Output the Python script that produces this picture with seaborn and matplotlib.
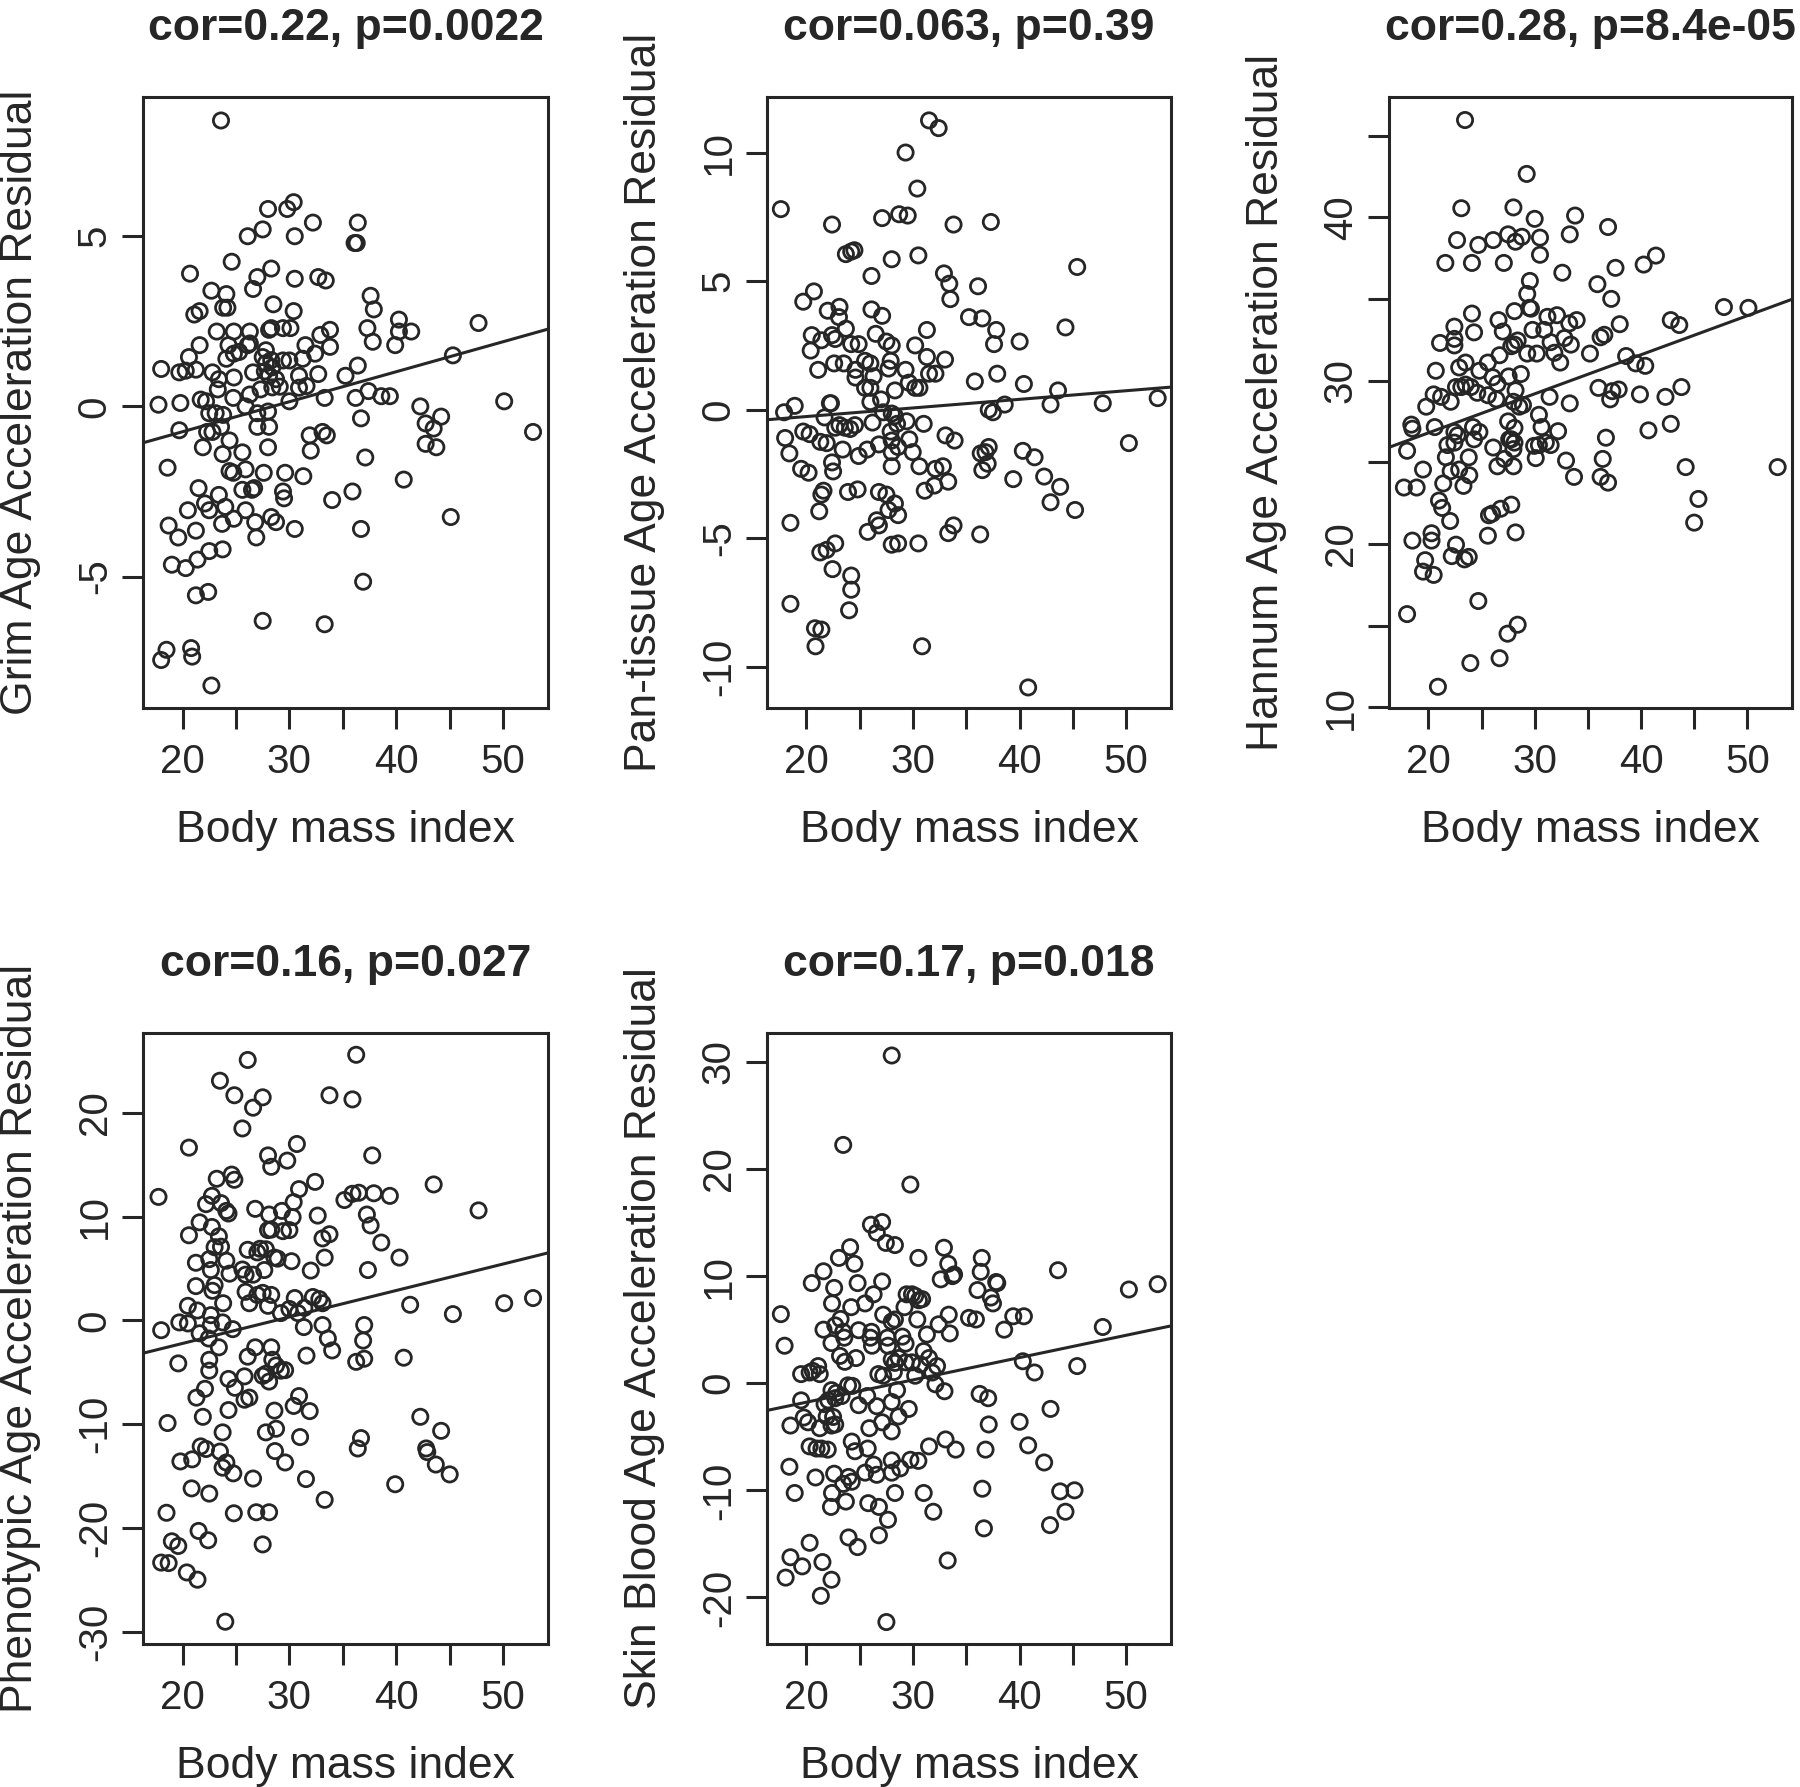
import matplotlib
matplotlib.use("Agg")
import matplotlib.pyplot as plt
import numpy as np
import pandas as pd
import seaborn as sns

# ---------------- data ----------------
x_label = "Body mass index"
titles = ["cor=0.22, p=0.0022", "cor=0.063, p=0.39", "cor=0.28, p=8.4e-05",
          "cor=0.16, p=0.027", "cor=0.17, p=0.018"]
y_labels = ["Grim Age Acceleration Residual", "Pan-tissue Age Acceleration Residual",
            "Hannum Age Acceleration Residual", "Phenotypic Age Acceleration Residual",
            "Skin Blood Age Acceleration Residual"]

x_ticks = [20, 25, 30, 35, 40, 45, 50]
x_tick_labels = ["20", "", "30", "", "40", "", "50"]

grim_ticks = [-5, 0, 5]
grim_tick_labels = ["-5", "0", "5"]
pan_ticks = [-10, -5, 0, 5, 10]
pan_tick_labels = ["-10", "-5", "0", "5", "10"]
hannum_ticks = [10, 15, 20, 25, 30, 35, 40, 45]
hannum_tick_labels = ["10", "", "20", "", "30", "", "40", ""]
pheno_ticks = [-30, -20, -10, 0, 10, 20]
pheno_tick_labels = ["-30", "-20", "-10", "0", "10", "20"]
skin_ticks = [-20, -10, 0, 10, 20, 30]
skin_tick_labels = ["-20", "-10", "0", "10", "20", "30"]

# (body mass index, residual) pairs
grim_points = [
    (23.6, 8.4), (28.0, 5.8), (29.8, 5.8), (30.4, 6.0), (32.2, 5.4), (36.4, 5.4), (36.1, 4.8), (36.3, 4.8),
    (26.1, 5.0), (27.5, 5.2), (30.5, 5.0), (24.6, 4.25), (20.7, 3.9), (27.0, 3.8), (28.3, 4.05), (26.6, 3.45),
    (30.5, 3.75), (32.7, 3.8), (33.4, 3.7), (22.7, 3.4), (24.1, 3.3), (23.8, 2.9), (24.2, 2.9), (21.1, 2.7),
    (21.6, 2.8), (28.5, 3.0), (30.4, 2.8), (37.6, 3.25), (37.9, 2.85), (23.2, 2.2), (24.8, 2.2), (26.3, 2.2),
    (28.1, 2.25), (28.3, 2.3), (29.4, 2.3), (30.1, 2.3), (32.9, 2.1), (33.8, 2.25), (37.3, 2.3), (37.8, 1.9),
    (40.25, 2.55), (40.25, 2.2), (41.4, 2.2), (47.7, 2.45), (39.9, 1.8), (21.6, 1.8), (24.3, 1.8), (25.3, 1.6),
    (26.1, 1.8), (26.3, 1.85), (20.6, 1.45), (24.1, 1.4), (24.8, 1.55), (27.8, 1.65), (31.5, 1.8), (32.4, 1.55),
    (33.8, 1.75), (18.0, 1.1), (19.7, 1.0), (20.3, 1.05), (21.25, 1.08), (22.8, 1.0), (24.8, 0.85), (23.4, 0.8),
    (26.6, 1.0), (27.5, 1.45), (27.8, 1.27), (28.3, 1.36), (28.4, 1.15), (27.7, 1.03), (28.1, 0.91), (28.75, 0.8),
    (29.1, 0.58), (28.4, 0.56), (29.4, 1.35), (30.0, 1.35), (31.25, 1.4), (30.9, 0.9), (30.9, 0.55), (31.6, 0.6),
    (32.7, 0.95), (35.25, 0.9), (36.4, 1.2), (45.3, 1.5), (23.3, 0.5), (26.3, 0.35), (27.3, 0.5), (24.75, 0.25),
    (30.0, 0.15), (33.3, 0.25), (36.2, 0.25), (37.4, 0.45), (38.6, 0.3), (39.4, 0.3), (50.1, 0.15), (17.75, 0.05),
    (19.8, 0.1), (21.7, 0.2), (22.2, 0.15), (25.9, 0.0), (42.25, 0.0), (22.5, -0.2), (23.1, -0.2), (23.8, -0.25),
    (27.0, -0.2), (28.0, -0.15), (44.2, -0.3), (36.7, -0.35), (42.75, -0.5), (43.5, -0.65), (19.7, -0.7),
    (22.3, -0.75), (22.8, -0.75), (23.6, -0.6), (27.0, -0.6), (28.1, -0.6), (31.9, -0.85), (33.1, -0.75),
    (33.5, -0.85), (52.8, -0.75), (24.4, -1.0), (21.9, -1.2), (23.75, -1.4), (25.6, -1.35), (28.0, -1.2),
    (32.0, -1.3), (42.75, -1.1), (43.75, -1.2), (37.1, -1.5), (18.6, -1.8), (24.4, -1.9), (24.75, -1.95),
    (25.9, -1.85), (27.6, -1.95), (29.6, -1.95), (31.3, -2.05), (40.7, -2.15), (21.5, -2.4), (25.6, -2.45),
    (26.7, -2.4), (26.5, -2.45), (29.4, -2.5), (29.5, -2.7), (35.9, -2.5), (34.0, -2.75), (22.1, -2.85),
    (22.5, -3.05), (23.4, -2.6), (24.0, -2.95), (20.5, -3.05), (25.9, -3.05), (18.7, -3.5), (19.6, -3.85),
    (21.25, -3.65), (23.7, -3.45), (24.8, -3.3), (26.8, -3.4), (26.9, -3.85), (28.3, -3.25), (28.75, -3.4),
    (30.5, -3.6), (36.7, -3.6), (45.1, -3.25), (19.0, -4.65), (20.3, -4.75), (21.4, -4.5), (22.5, -4.25),
    (23.75, -4.2), (36.9, -5.15), (21.25, -5.55), (22.4, -5.45), (27.5, -6.3), (33.3, -6.4), (18.5, -7.15),
    (18.0, -7.45), (20.8, -7.1), (20.9, -7.35), (22.7, -8.2),
]

pan_points = [
    (31.5, 11.25), (32.4, 10.95), (29.3, 10.0), (30.4, 8.6), (17.6, 7.8), (22.4, 7.2), (27.1, 7.45), (28.7, 7.6),
    (29.5, 7.55), (33.8, 7.2), (37.3, 7.3), (23.7, 6.05), (24.2, 6.15), (24.5, 6.2), (28.0, 5.85), (30.5, 6.0),
    (26.1, 5.2), (45.4, 5.55), (32.9, 5.3), (33.4, 4.9), (33.5, 4.3), (36.1, 4.8), (20.7, 4.6), (19.7, 4.2),
    (22.0, 3.85), (23.1, 4.0), (23.05, 3.6), (26.1, 3.9), (27.1, 3.65), (35.25, 3.6), (36.5, 3.55), (37.8, 3.1),
    (37.6, 2.55), (44.3, 3.2), (20.5, 2.9), (21.4, 2.7), (22.4, 2.9), (22.7, 2.75), (23.7, 3.15), (20.4, 2.3),
    (22.6, 1.8), (23.5, 1.8), (21.1, 1.55), (24.2, 2.55), (24.9, 2.55), (26.5, 2.95), (27.5, 2.65), (28.0, 2.5),
    (30.2, 2.5), (31.3, 3.1), (31.3, 2.05), (33.0, 1.95), (31.5, 1.4), (32.1, 1.4), (40.0, 2.65), (24.6, 1.55),
    (24.6, 1.25), (25.5, 1.9), (26.0, 1.8), (26.3, 1.3), (25.5, 0.85), (26.0, 0.85), (27.9, 1.9), (27.7, 1.6),
    (29.3, 1.55), (29.6, 1.05), (30.2, 0.85), (30.6, 0.85), (28.3, 0.75), (26.0, 0.3), (27.0, 0.4), (22.2, 0.25),
    (22.3, 0.25), (35.8, 1.1), (37.9, 1.4), (40.4, 1.0), (43.6, 0.75), (17.9, -0.1), (18.9, 0.15), (21.7, -0.3),
    (37.1, 0.0), (37.5, -0.1), (38.6, 0.2), (42.9, 0.2), (47.8, 0.25), (52.95, 0.45), (27.2, -0.1), (28.0, -0.15),
    (28.3, -0.25), (28.5, -0.55), (22.7, -0.7), (23.1, -0.6), (23.6, -0.7), (24.1, -0.75), (24.55, -0.6),
    (26.2, -0.5), (29.4, -0.45), (31.0, -0.55), (19.7, -0.85), (20.3, -0.95), (18.0, -1.1), (21.3, -1.25),
    (21.9, -1.3), (26.8, -1.35), (27.9, -0.85), (28.0, -1.2), (29.65, -1.15), (33.05, -1.0), (33.9, -1.2),
    (18.4, -1.7), (23.4, -1.55), (24.9, -1.8), (25.7, -1.55), (28.0, -1.65), (28.6, -1.45), (29.97, -1.65),
    (36.35, -1.7), (36.8, -1.65), (37.1, -1.45), (40.3, -1.6), (41.4, -1.85), (50.25, -1.3), (22.4, -2.05),
    (22.5, -2.4), (28.0, -2.2), (30.6, -2.2), (32.1, -2.3), (32.8, -2.2), (19.5, -2.3), (20.2, -2.45),
    (36.5, -2.35), (37.0, -2.1), (33.3, -2.8), (39.4, -2.7), (42.3, -2.6), (43.8, -3.0), (31.1, -3.15),
    (32.0, -2.95), (21.6, -3.15), (21.4, -3.3), (23.9, -3.2), (24.8, -3.1), (26.8, -3.2), (27.5, -3.3),
    (28.3, -3.65), (27.7, -3.9), (28.6, -4.1), (21.2, -3.95), (42.9, -3.6), (45.2, -3.9), (18.5, -4.4),
    (26.6, -4.3), (26.8, -4.5), (25.75, -4.75), (33.3, -4.8), (33.8, -4.5), (36.3, -4.85), (28.0, -5.25),
    (28.6, -5.2), (30.5, -5.2), (21.3, -5.55), (21.9, -5.45), (22.7, -5.2), (22.45, -6.2), (24.2, -6.45),
    (24.2, -7.0), (18.5, -7.55), (24.0, -7.8), (20.8, -8.5), (21.4, -8.55), (20.85, -9.2), (30.85, -9.2),
    (40.8, -10.8),
]

hannum_points = [
    (23.45, 45.95), (29.25, 42.65), (23.1, 40.55), (28.0, 40.6), (30.0, 39.9), (33.8, 40.1), (36.9, 39.4),
    (22.7, 38.6), (24.7, 38.3), (26.1, 38.6), (27.5, 38.95), (28.2, 38.5), (28.8, 38.8), (30.5, 38.75),
    (30.5, 37.7), (33.3, 38.95), (21.6, 37.2), (24.1, 37.2), (27.1, 37.2), (32.6, 36.6), (35.9, 35.9),
    (37.6, 36.9), (40.25, 37.1), (41.4, 37.65), (37.2, 35.0), (29.55, 36.1), (29.3, 35.3), (29.5, 34.45),
    (29.65, 34.4), (28.1, 34.25), (24.1, 34.1), (26.6, 33.7), (22.45, 33.3), (22.45, 32.55), (22.45, 32.15),
    (24.3, 32.95), (27.0, 33.0), (21.1, 32.3), (28.1, 32.2), (28.4, 32.45), (27.8, 32.1), (29.8, 33.1),
    (30.9, 33.1), (31.2, 33.9), (32.1, 34.0), (31.5, 32.35), (31.85, 31.7), (32.4, 31.1), (33.25, 33.5),
    (33.95, 33.7), (32.8, 32.6), (33.4, 32.2), (29.3, 31.65), (30.2, 31.65), (26.7, 31.55), (35.2, 31.65),
    (36.2, 32.65), (36.55, 32.8), (38.0, 33.45), (42.8, 33.7), (43.6, 33.4), (47.8, 34.5), (50.1, 34.45),
    (38.6, 31.5), (39.5, 31.05), (40.4, 30.9), (20.7, 30.6), (22.9, 30.8), (23.5, 31.1), (24.8, 30.6),
    (25.6, 31.1), (26.05, 30.2), (26.5, 29.8), (27.55, 30.25), (28.7, 30.4), (22.6, 29.6), (23.1, 29.6),
    (23.5, 29.75), (24.0, 29.6), (24.6, 29.25), (25.6, 29.1), (26.4, 28.85), (20.5, 29.15), (21.2, 29.0),
    (22.1, 28.7), (19.8, 28.4), (28.2, 29.4), (28.0, 28.7), (28.55, 28.4), (28.9, 28.5), (31.4, 29.0),
    (33.3, 28.6), (36.0, 29.55), (37.1, 28.85), (37.3, 29.35), (37.9, 29.45), (39.9, 29.15), (42.3, 29.0),
    (43.8, 29.6), (18.4, 27.3), (18.5, 27.05), (20.6, 27.15), (24.2, 27.15), (24.8, 26.85), (24.3, 26.4),
    (22.45, 26.85), (22.45, 26.2), (22.75, 26.65), (27.5, 27.5), (28.1, 27.1), (27.6, 26.4), (27.8, 26.4),
    (28.1, 26.2), (28.0, 25.8), (27.15, 25.2), (30.4, 27.9), (30.65, 27.15), (32.2, 26.9), (29.95, 26.0),
    (30.4, 26.05), (31.05, 26.2), (31.5, 26.05), (30.1, 25.25), (26.1, 25.9), (26.5, 24.75), (28.0, 24.75),
    (40.7, 26.95), (42.8, 27.35), (36.7, 26.5), (36.4, 25.2), (36.2, 24.1), (36.9, 23.75), (32.95, 25.1),
    (33.7, 24.1), (18.0, 25.7), (21.8, 26.05), (21.65, 25.3), (22.1, 24.45), (22.9, 24.55), (23.8, 25.3),
    (23.85, 24.2), (23.3, 23.55), (19.5, 24.55), (17.7, 23.45), (18.9, 23.45), (21.4, 23.7), (44.2, 24.7),
    (52.85, 24.7), (45.4, 22.75), (45.0, 21.3), (21.0, 22.65), (21.3, 22.2), (22.05, 21.4), (25.7, 21.75),
    (26.0, 21.85), (26.8, 22.15), (27.8, 22.4), (25.6, 20.5), (28.2, 20.7), (20.3, 20.65), (20.3, 20.2),
    (18.5, 20.2), (22.6, 19.95), (22.2, 19.25), (23.4, 19.05), (23.8, 19.2), (19.7, 19.0), (19.5, 18.3),
    (20.5, 18.1), (24.7, 16.5), (18.0, 15.7), (27.45, 14.5), (28.4, 15.05), (23.95, 12.7), (26.7, 13.0),
    (20.9, 11.25),
]

pheno_points = [
    (26.1, 25.1), (36.25, 25.6), (23.5, 23.1), (24.85, 21.7), (26.6, 20.5), (27.5, 21.5), (33.75, 21.7),
    (35.9, 21.3), (25.6, 18.5), (20.6, 16.65), (30.7, 17.0), (28.0, 15.9), (28.3, 14.8), (29.8, 15.4),
    (37.75, 15.9), (23.2, 13.65), (24.6, 14.05), (24.85, 13.55), (32.4, 13.35), (43.5, 13.1), (17.75, 11.9),
    (22.2, 11.2), (22.75, 12.0), (23.6, 11.3), (24.1, 10.55), (24.3, 10.3), (30.9, 12.65), (30.4, 11.4),
    (35.15, 11.6), (35.9, 12.2), (36.5, 12.3), (37.9, 12.25), (39.4, 12.0), (26.8, 10.75), (28.1, 10.2),
    (29.3, 10.55), (30.3, 9.95), (32.65, 10.1), (37.25, 10.2), (37.6, 9.15), (47.7, 10.6), (21.6, 9.45),
    (22.75, 9.0), (23.4, 8.1), (20.6, 8.2), (28.0, 8.7), (28.3, 8.75), (29.4, 8.6), (30.0, 8.7), (33.1, 7.9),
    (33.75, 8.3), (38.6, 7.5), (23.0, 7.05), (23.6, 7.1), (26.1, 6.8), (27.0, 6.55), (27.25, 6.9), (27.8, 6.85),
    (28.6, 6.05), (28.9, 5.95), (30.2, 5.7), (33.3, 6.05), (40.3, 6.05), (21.25, 5.55), (22.5, 5.9),
    (24.1, 5.75), (22.65, 4.85), (24.4, 4.5), (25.6, 4.9), (25.9, 4.4), (26.6, 4.4), (27.65, 4.85), (32.0, 4.8),
    (37.35, 4.85), (21.25, 3.3), (22.8, 2.85), (23.0, 3.4), (23.8, 1.65), (25.9, 2.75), (26.25, 1.65),
    (27.0, 2.45), (27.5, 2.65), (28.3, 2.45), (28.0, 1.4), (20.5, 1.4), (21.4, 0.95), (19.7, -0.2),
    (20.5, -0.3), (18.0, -0.95), (22.65, 0.5), (22.65, -0.45), (23.75, -0.2), (24.7, -0.85), (21.6, -1.25),
    (22.45, -1.75), (23.4, -2.6), (29.2, 0.7), (30.0, 1.1), (30.5, 2.15), (30.8, 0.7), (31.4, 1.2),
    (32.2, 2.25), (32.8, 2.05), (33.1, 1.65), (31.35, -0.65), (33.1, -0.45), (33.6, -1.75), (34.0, -2.9),
    (37.0, -0.45), (36.9, -1.95), (41.3, 1.5), (45.3, 0.6), (50.1, 1.65), (52.8, 2.15), (19.6, -4.15),
    (22.5, -3.8), (22.5, -4.85), (26.8, -2.6), (26.1, -3.5), (28.3, -2.6), (28.4, -3.8), (28.75, -4.35),
    (29.2, -4.85), (29.6, -4.8), (31.6, -3.4), (36.25, -4.0), (37.0, -3.7), (40.7, -3.6), (24.3, -5.65),
    (24.9, -6.5), (25.8, -5.4), (25.8, -7.65), (26.25, -7.45), (27.5, -5.35), (28.1, -5.9), (27.8, -5.15),
    (22.1, -6.6), (21.3, -7.45), (21.9, -9.3), (24.3, -8.65), (30.9, -7.3), (30.4, -8.25), (31.9, -8.75),
    (28.6, -8.7), (18.6, -9.9), (23.75, -10.8), (27.8, -10.8), (28.75, -10.45), (31.0, -11.25), (36.7, -11.35),
    (36.4, -12.35), (42.25, -9.3), (44.2, -10.65), (42.8, -12.35), (42.9, -12.7), (43.7, -13.9), (45.0, -14.85),
    (21.7, -12.15), (22.2, -12.4), (19.8, -13.6), (20.9, -13.4), (23.5, -12.65), (24.1, -13.7), (23.75, -14.2),
    (24.75, -14.75), (28.65, -12.6), (29.6, -13.7), (26.6, -15.25), (31.55, -15.3), (33.3, -17.3),
    (39.9, -15.8), (20.85, -16.2), (22.5, -16.7), (18.5, -18.55), (24.8, -18.6), (26.9, -18.5), (28.1, -18.5),
    (21.5, -20.3), (22.4, -21.2), (27.5, -21.6), (19.0, -21.3), (19.6, -21.75), (18.0, -23.35), (18.7, -23.4),
    (20.4, -24.3), (21.4, -25.0), (24.0, -29.05),
]

skin_points = [
    (28.0, 30.6), (23.45, 22.25), (29.75, 18.55), (26.05, 14.8), (27.1, 15.05), (26.6, 14.05), (27.45, 13.1),
    (28.3, 12.9), (24.1, 12.7), (23.05, 11.7), (24.5, 11.15), (30.5, 11.7), (32.9, 12.65), (33.3, 11.15),
    (33.85, 10.15), (33.7, 10.0), (32.6, 9.7), (36.45, 11.7), (36.35, 10.4), (43.6, 10.55), (21.6, 10.45),
    (20.5, 9.35), (22.6, 8.9), (22.4, 7.45), (24.8, 9.35), (27.1, 9.5), (25.5, 7.45), (26.3, 8.3), (24.2, 7.1),
    (50.25, 8.75), (52.95, 9.25), (36.05, 8.7), (37.8, 9.45), (37.9, 9.35), (37.3, 8.0), (37.5, 7.45),
    (29.4, 8.3), (29.9, 8.3), (30.2, 8.15), (30.55, 7.75), (30.85, 7.85), (30.4, 5.95), (29.2, 7.1),
    (17.6, 6.45), (17.95, 3.5), (21.6, 5.0), (23.45, 4.8), (23.55, 4.25), (22.7, 5.4), (23.2, 6.0), (24.9, 4.95),
    (26.1, 4.8), (26.0, 4.25), (26.15, 3.5), (22.35, 3.75), (27.2, 6.4), (28.0, 5.75), (28.3, 5.95),
    (27.6, 4.25), (27.65, 3.5), (29.0, 4.35), (29.3, 3.7), (31.3, 4.55), (32.4, 5.5), (33.35, 6.4),
    (33.45, 4.65), (35.25, 6.1), (35.9, 5.95), (38.55, 5.0), (39.4, 6.25), (40.4, 6.25), (47.8, 5.25),
    (45.4, 1.6), (40.3, 2.05), (41.4, 1.0), (24.65, 2.35), (23.6, 2.0), (23.15, 2.55), (28.0, 2.2), (28.3, 1.9),
    (28.65, 2.35), (28.2, 1.05), (29.3, 1.95), (29.9, 1.95), (30.7, 1.75), (31.0, 3.0), (31.5, 2.35),
    (32.25, 1.6), (31.8, 1.0), (30.2, 0.7), (19.5, 0.85), (20.3, 1.0), (20.6, 1.15), (21.1, 1.6), (21.25, 0.85),
    (26.75, 0.85), (27.2, 0.7), (24.3, -0.25), (23.9, -0.2), (22.35, -0.65), (22.8, -0.9), (23.3, -1.2),
    (22.7, -1.4), (21.7, -1.95), (22.05, -1.6), (32.1, -0.1), (32.95, -0.75), (28.5, -0.65), (28.0, -1.75),
    (24.9, -2.05), (25.7, -1.2), (26.6, -2.15), (19.5, -1.6), (29.6, -2.4), (36.25, -1.0), (37.05, -1.4),
    (42.9, -2.4), (19.75, -3.2), (20.15, -3.65), (21.25, -4.2), (18.5, -3.95), (21.9, -3.1), (22.5, -3.15),
    (22.7, -3.85), (22.35, -3.95), (25.9, -4.2), (27.1, -3.65), (28.0, -4.5), (28.65, -3.1), (37.1, -3.85),
    (40.0, -3.6), (40.8, -5.8), (20.3, -5.9), (20.95, -6.1), (21.4, -6.1), (22.0, -6.2), (24.25, -5.45),
    (24.55, -6.35), (25.75, -6.1), (31.5, -5.9), (33.05, -5.25), (34.0, -6.2), (36.8, -6.2), (42.3, -7.4),
    (18.4, -7.8), (20.85, -8.8), (22.6, -8.45), (23.45, -9.4), (23.95, -8.75), (24.25, -9.2), (25.5, -8.35),
    (26.3, -7.6), (26.6, -8.55), (28.0, -7.2), (28.0, -8.35), (28.8, -7.95), (29.75, -7.15), (30.5, -7.25),
    (18.9, -10.25), (22.4, -10.25), (22.3, -11.55), (23.7, -11.05), (25.8, -11.2), (26.8, -11.55),
    (27.65, -12.75), (28.3, -10.25), (31.0, -10.25), (31.9, -12.0), (36.5, -9.85), (36.65, -13.55),
    (43.8, -10.1), (45.15, -10.0), (44.3, -12.0), (42.85, -13.25), (23.95, -14.4), (24.8, -15.3), (26.8, -14.2),
    (20.3, -14.9), (18.5, -16.25), (19.6, -17.1), (18.05, -18.15), (21.5, -16.7), (22.35, -18.35),
    (21.35, -19.85), (33.25, -16.55), (27.5, -22.3),
]

x_limits = (16.3, 54.2)
grim_limits = (-8.86, 9.09)
pan_limits = (-11.6, 12.16)
hannum_limits = (9.95, 47.36)
pheno_limits = (-31.2, 27.7)
skin_limits = (-24.35, 32.7)

# ---------------- styling ----------------
sns.set_style("white")
plt.rcParams["font.family"] = ["Liberation Sans", "DejaVu Sans"]
INK = "#262626"

W, H = 1800, 1787
fig = plt.figure(figsize=(W / 100, H / 100), dpi=100)

# axes boxes in pixels: (left, top, right, bottom)
boxes = [(143, 97, 548, 708), (767, 97, 1171, 708), (1389, 97, 1792, 708),
         (143, 1033, 548, 1644), (767, 1033, 1171, 1644)]

panels = [
    (grim_points, grim_limits, grim_ticks, grim_tick_labels),
    (pan_points, pan_limits, pan_ticks, pan_tick_labels),
    (hannum_points, hannum_limits, hannum_ticks, hannum_tick_labels),
    (pheno_points, pheno_limits, pheno_ticks, pheno_tick_labels),
    (skin_points, skin_limits, skin_ticks, skin_tick_labels),
]

for i, (pts, ylim, yt, ytl) in enumerate(panels):
    l, t, r, b = boxes[i]
    ax = fig.add_axes([l / W, 1 - b / H, (r - l) / W, (b - t) / H])
    df = pd.DataFrame(pts, columns=["bmi", "resid"])
    ax.set_xlim(*x_limits)
    ax.set_ylim(*ylim)
    sns.regplot(data=df, x="bmi", y="resid", ax=ax, ci=None, truncate=False, color=INK,
                scatter_kws=dict(s=120, facecolors="none", edgecolors=INK, linewidths=2.0, alpha=1),
                line_kws=dict(color=INK, linewidth=2.2))
    ax.set_xlim(*x_limits)
    ax.set_ylim(*ylim)

    for sp in ax.spines.values():
        sp.set_visible(True)
        sp.set_color(INK)
        sp.set_linewidth(2.2)

    ax.set_xticks(x_ticks)
    ax.set_xticklabels(x_tick_labels)
    ax.set_yticks(yt)
    ax.set_yticklabels(ytl)
    ax.tick_params(axis="both", direction="out", length=15, width=2.2, color=INK,
                   labelsize=29, labelcolor=INK, left=True, bottom=True)
    ax.tick_params(axis="x", pad=10)
    ax.tick_params(axis="y", pad=6, labelrotation=90)
    for lab in ax.get_yticklabels():
        lab.set_va("center")

    ax.set_xlabel(x_label, fontsize=32, color=INK)
    ax.xaxis.set_label_coords(0.5, -0.2)
    ax.xaxis.label.set_va("center")
    ax.set_ylabel(y_labels[i], fontsize=32, color=INK)
    ax.yaxis.set_label_coords(-0.303, 0.5)
    ax.yaxis.label.set_va("center")
    ax.set_title(titles[i], fontsize=32, fontweight="bold", color=INK, y=1.099, va="center")

fig.savefig("out.png", dpi=100)
